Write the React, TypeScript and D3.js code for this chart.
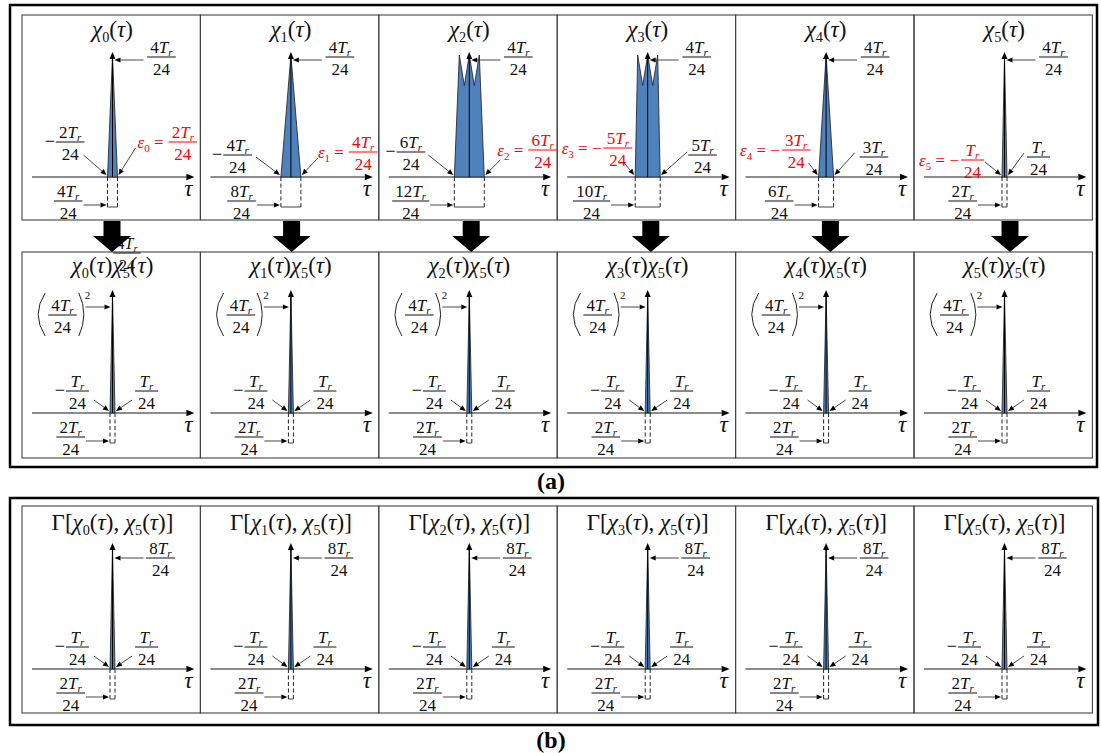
import React from 'react';
import * as d3 from 'd3';

// ---------------- data ----------------
const chiIndex = [0, 1, 2, 3, 4, 5];
const chiHalfWidth = [2, 4, 6, 5, 3, 1]; // half base width, units of Tr/24
const chiEpsilon = [2, 4, 6, -5, -3, -1]; // epsilon_k, units of Tr/24
const chiPeakCoef = 4; // peak = 4Tr/24
const chiProfiles: [number, number][][] = [
  [[-2, 0], [0, 4], [2, 0]],
  [[-4, 0], [0, 4], [4, 0]],
  [[-6, 0], [-4, 4], [-2, 3], [0, 4], [2, 3], [4, 4], [6, 0]],
  [[-5, 0], [-4, 4], [-2, 3], [0, 4], [2, 3], [4, 4], [5, 0]],
  [[-3, 0], [0, 4], [3, 0]],
  [[-1, 0], [0, 4], [1, 0]],
];
const refIndex = 5;
const productHalfWidth = 1;
const productPeak = 16; // (4Tr/24)^2 in units^2
const productPeakCoef = 4;
const productPeakPower = 2;
const productProfile: [number, number][] = [[-1, 0], [0, 16], [1, 0]];
const gammaHalfWidth = 1;
const gammaPeakCoef = 8;
const gammaProfile: [number, number][] = [[-1, 0], [0, 8], [1, 0]];
const denominator = '24';
const figureLabels = ['(a)', '(b)'];

// ---------------- layout ----------------
const W = 1101;
const H = 753;
const FONT = "'Liberation Serif', 'Times New Roman', Times, serif";
const FS = 17;
const TITLE_FS = 23;
const RED = '#ff0000';
const INK = '#111';
const PX_PER_UNIT = 2.5;
const edgeX = d3.scaleLinear().domain([0, 6]).range([22, 1092.4]);
const bigArrowX = d3.scaleLinear().domain([0, 5]).range([112, 1010]);

// per-panel placement of the edge labels in the top row (hand placed in the figure)
const TOP_LEFT_GAP = [23, 29, 29, 3, 8, 18];
const TOP_LEFT_BAR = [-35, -22, -25, -29, -27, -17];
const TOP_LEFT_ARROW: [number, number][] = [[-24, -22], [-25, -20], [-26, -22], [-11, -14], [-10, -14], [-17, -15]];
const TOP_RIGHT_GAP = [20, 17, 13, 28, 26, 20];
const TOP_RIGHT_BAR = [-35, -25, -27, -22, -20, -20];
const TOP_RIGHT_ARROW: [number, number][] = [[18, -29], [17, -19], [16, -17], [27, -25], [21, -24], [17, -24]];

type Row = { top: number; bottom: number; axisY: number; peakPx: number; titleDy: number };
const ROW_CHI: Row = { top: 15, bottom: 220, axisY: 177, peakPx: 122, titleDy: 22 };
const ROW_PROD: Row = { top: 252, bottom: 458, axisY: 413, peakPx: 120, titleDy: 21 };
const ROW_GAMMA: Row = { top: 506, bottom: 713, axisY: 669, peakPx: 123, titleDy: 24 };

const coefStr = (n: number) => (n === 1 ? '' : String(n));
const numW = (coef: string, fs = FS) => coef.length * 0.5 * fs + 0.58 * fs + 0.39 * fs * 0.65;
const fracWidth = (coef: string, fs = FS) => Math.max(numW(coef, fs), denominator.length * 0.5 * fs) + 6;

function ArrowLine({ x1, y1, x2, y2, color = '#333', head = 6, hw = 2.6, sw = 0.9 }: any) {
  const a = Math.atan2(y2 - y1, x2 - x1);
  const bx = x2 - head * Math.cos(a);
  const by = y2 - head * Math.sin(a);
  const px = -Math.sin(a) * hw;
  const py = Math.cos(a) * hw;
  return (
    <g>
      <line x1={x1} y1={y1} x2={bx} y2={by} stroke={color} strokeWidth={sw} />
      <path d={`M${x2},${y2}L${bx + px},${by + py}L${bx - px},${by - py}Z`} fill="#000" />
    </g>
  );
}

function Frac({ cx, bar, coef, color = INK, fs = FS }: any) {
  const bw = fracWidth(coef, fs);
  return (
    <g fill={color} style={{ fontFamily: FONT }}>
      <text x={cx} y={bar - 4} textAnchor="middle" fontSize={fs}>
        {coef}
        <tspan fontStyle="italic">T</tspan>
        <tspan fontStyle="italic" fontSize={fs * 0.65} dy={3}>r</tspan>
      </text>
      <line x1={cx - bw / 2} x2={cx + bw / 2} y1={bar} y2={bar} stroke={color} strokeWidth={1} />
      <text x={cx} y={bar + 18} textAnchor="middle" fontSize={fs}>{denominator}</text>
    </g>
  );
}

function chiT(k: number, key: string, fs: number) {
  return [
    <tspan key={key + 'a'} fontStyle="italic">χ</tspan>,
    <tspan key={key + 'b'} fontSize={fs * 0.62} dy={fs * 0.22}>{k}</tspan>,
    <tspan key={key + 'c'} dy={-fs * 0.22}>(</tspan>,
    <tspan key={key + 'd'} fontStyle="italic">τ</tspan>,
    <tspan key={key + 'e'}>)</tspan>,
  ];
}

// prefix "ε_k = " (optionally with minus)
function EpsPrefix({ x, y, k, neg, anchor }: any) {
  return (
    <text x={x} y={y} textAnchor={anchor} fontSize={FS} fill={RED}>
      <tspan fontStyle="italic">ε</tspan>
      <tspan fontSize={11} dy={4}>{k}</tspan>
      <tspan dy={-4}>{neg ? ' = −' : ' = '}</tspan>
    </text>
  );
}
const EPS_PREFIX_W = 31;

function BlackLeft({ xL, axisY, coef, gap, barDy, adx, ady }: any) {
  const bw = fracWidth(coef);
  const cx = xL - gap - bw / 2;
  const bar = axisY + barDy;
  return (
    <g>
      <text x={cx - bw / 2 - 1} y={bar + 5} textAnchor="end" fontSize={FS + 1} fill={INK}>−</text>
      <Frac cx={cx} bar={bar} coef={coef} />
      <ArrowLine x1={xL + adx} y1={axisY + ady} x2={xL - 1} y2={axisY - 2} />
    </g>
  );
}

function BlackRight({ xR, axisY, coef, gap, barDy, adx, ady }: any) {
  const bw = fracWidth(coef);
  const cx = xR + gap + bw / 2;
  const bar = axisY + barDy;
  return (
    <g>
      <Frac cx={cx} bar={bar} coef={coef} />
      <ArrowLine x1={xR + adx} y1={axisY + ady} x2={xR + 1} y2={axisY - 2} />
    </g>
  );
}

function RedRight({ xR, axisY, coef, k, gap, barDy, adx, ady }: any) {
  const bw = fracWidth(coef);
  const bar = axisY + barDy;
  const x0 = xR + gap;
  const cx = x0 + EPS_PREFIX_W + bw / 2;
  return (
    <g>
      <EpsPrefix x={x0} y={bar + 6} k={k} neg={false} anchor="start" />
      <Frac cx={cx} bar={bar} coef={coef} color={RED} />
      <ArrowLine x1={xR + adx} y1={axisY + ady} x2={xR + 1} y2={axisY - 2} />
    </g>
  );
}

function RedLeft({ xL, axisY, coef, k, gap, barDy, adx, ady }: any) {
  const bw = fracWidth(coef);
  const bar = axisY + barDy;
  const cx = xL - gap - bw / 2;
  return (
    <g>
      <EpsPrefix x={cx - bw / 2 - 2} y={bar + 6} k={k} neg={true} anchor="end" />
      <Frac cx={cx} bar={bar} coef={coef} color={RED} />
      <ArrowLine x1={xL + adx} y1={axisY + ady} x2={xL - 1} y2={axisY - 2} />
    </g>
  );
}

function PanelBase({ k, row, title, profile, yMax, halfWidth }: any) {
  const left = edgeX(k);
  const right = edgeX(k + 1);
  const cx = left + 90.5;
  const tau = d3.scaleLinear().domain([0, 1]).range([cx, cx + PX_PER_UNIT]);
  const y = d3.scaleLinear().domain([0, yMax]).range([row.axisY, row.axisY - row.peakPx]);
  const line = d3.line<[number, number]>().x((d) => tau(d[0])).y((d) => y(d[1]));
  const xL = tau(-halfWidth);
  const xR = tau(halfWidth);
  const yPeak = y(yMax);
  const boxB = row.axisY + 30;
  const wCoef = coefStr(2 * halfWidth);
  const wbw = fracWidth(wCoef);
  return (
    <g>
      <rect x={left} y={row.top} width={right - left} height={row.bottom - row.top} fill="none" stroke="#444" strokeWidth={1.1} />
      <text x={cx} y={row.top + row.titleDy} textAnchor="middle" fontSize={TITLE_FS} fill={INK}>{title}</text>
      <ArrowLine x1={left + 10} y1={row.axisY} x2={right - 6} y2={row.axisY} color="#666" sw={1.5} head={8} hw={3.3} />
      <text x={right - 12} y={row.axisY + 19} textAnchor="middle" fontSize={23} fontStyle="italic" fill={INK}>τ</text>
      <path d={(line(profile) || '') + 'Z'} fill="#4f81bd" stroke="#1c1c1c" strokeWidth={0.8} strokeLinejoin="miter" />
      <ArrowLine x1={cx} y1={row.axisY} x2={cx} y2={yPeak - 3} color="#000" sw={1} head={7} hw={3} />
      <line x1={xL} y1={row.axisY} x2={xL} y2={boxB} stroke="#222" strokeWidth={1} strokeDasharray="4 2.5" />
      <line x1={xR} y1={row.axisY} x2={xR} y2={boxB} stroke="#222" strokeWidth={1} strokeDasharray="4 2.5" />
      <line x1={xL} y1={boxB} x2={xR} y2={boxB} stroke="#444" strokeWidth={1} />
      <Frac cx={xL - 25 - wbw / 2} bar={row.axisY + 24} coef={wCoef} />
      <ArrowLine x1={xL - 24} y1={row.axisY + 28} x2={xL - 1} y2={row.axisY + 28} />
    </g>
  );
}

function ChiPanel({ k }: { k: number }) {
  const row = ROW_CHI;
  const cx = edgeX(k) + 90.5;
  const tau = d3.scaleLinear().domain([0, 1]).range([cx, cx + PX_PER_UNIT]);
  const y = d3.scaleLinear().domain([0, chiPeakCoef]).range([row.axisY, row.axisY - row.peakPx]);
  const h = chiHalfWidth[k];
  const eps = chiEpsilon[k];
  const xL = tau(-h);
  const xR = tau(h);
  const yPeak = y(chiPeakCoef);
  const cb = coefStr(h);
  const ce = coefStr(Math.abs(eps));
  const leftCfg = { gap: TOP_LEFT_GAP[k], barDy: TOP_LEFT_BAR[k], adx: TOP_LEFT_ARROW[k][0], ady: TOP_LEFT_ARROW[k][1] };
  const rightCfg = { gap: TOP_RIGHT_GAP[k], barDy: TOP_RIGHT_BAR[k], adx: TOP_RIGHT_ARROW[k][0], ady: TOP_RIGHT_ARROW[k][1] };
  return (
    <g>
      <PanelBase k={k} row={row} title={chiT(k, 't', TITLE_FS)} profile={chiProfiles[k]} yMax={chiPeakCoef} halfWidth={h} />
      <Frac cx={cx + 49} bar={yPeak + 2} coef={coefStr(chiPeakCoef)} />
      <ArrowLine x1={cx + 31} y1={yPeak + 5} x2={cx + 2} y2={yPeak + 5} />
      {eps > 0 ? (
        <g>
          <BlackLeft xL={xL} axisY={row.axisY} coef={cb} {...leftCfg} />
          <RedRight xR={xR} axisY={row.axisY} coef={ce} k={k} {...rightCfg} />
        </g>
      ) : (
        <g>
          <RedLeft xL={xL} axisY={row.axisY} coef={ce} k={k} {...leftCfg} />
          <BlackRight xR={xR} axisY={row.axisY} coef={cb} {...rightCfg} />
        </g>
      )}
    </g>
  );
}

function ProductPanel({ k }: { k: number }) {
  const row = ROW_PROD;
  const cx = edgeX(k) + 90.5;
  const tau = d3.scaleLinear().domain([0, 1]).range([cx, cx + PX_PER_UNIT]);
  const y = d3.scaleLinear().domain([0, productPeak]).range([row.axisY, row.axisY - row.peakPx]);
  const xL = tau(-productHalfWidth);
  const xR = tau(productHalfWidth);
  const yPeak = y(productPeak);
  const c = coefStr(productHalfWidth);
  const pc = coefStr(productPeakCoef);
  const bw = fracWidth(pc);
  const fcx = cx - 50;
  const bar = yPeak + 22;
  const top = bar - 22;
  const bot = bar + 21;
  const lE = fcx - bw / 2 - 3;
  const rE = fcx + bw / 2 + 2;
  return (
    <g>
      <PanelBase
        k={k}
        row={row}
        title={[...chiT(k, 'p', TITLE_FS), ...chiT(refIndex, 'q', TITLE_FS)]}
        profile={productProfile}
        yMax={productPeak}
        halfWidth={productHalfWidth}
      />
      <path d={`M${lE},${top} Q${lE - 14},${(top + bot) / 2} ${lE},${bot}`} fill="none" stroke="#222" strokeWidth={1} />
      <path d={`M${rE},${top} Q${rE + 10},${(top + bot) / 2} ${rE},${bot}`} fill="none" stroke="#222" strokeWidth={1} />
      <Frac cx={fcx} bar={bar} coef={pc} />
      <text x={rE + 6} y={bar - 16} fontSize={11} fill={INK}>{productPeakPower}</text>
      <ArrowLine x1={cx - 27} y1={yPeak + 14} x2={cx - 2} y2={yPeak + 14} />
      <BlackLeft xL={xL} axisY={row.axisY} coef={c} gap={21} barDy={-22} adx={-16} ady={-13} />
      <BlackRight xR={xR} axisY={row.axisY} coef={c} gap={20} barDy={-22} adx={17} ady={-13} />
    </g>
  );
}

function GammaPanel({ k }: { k: number }) {
  const row = ROW_GAMMA;
  const cx = edgeX(k) + 90.5;
  const tau = d3.scaleLinear().domain([0, 1]).range([cx, cx + PX_PER_UNIT]);
  const y = d3.scaleLinear().domain([0, gammaPeakCoef]).range([row.axisY, row.axisY - row.peakPx]);
  const xL = tau(-gammaHalfWidth);
  const xR = tau(gammaHalfWidth);
  const yPeak = y(gammaPeakCoef);
  const c = coefStr(gammaHalfWidth);
  return (
    <g>
      <PanelBase
        k={k}
        row={row}
        title={['Γ[', ...chiT(k, 'g', TITLE_FS), ', ', ...chiT(refIndex, 'h', TITLE_FS), ']']}
        profile={gammaProfile}
        yMax={gammaPeakCoef}
        halfWidth={gammaHalfWidth}
      />
      <Frac cx={cx + 48} bar={yPeak + 12} coef={coefStr(gammaPeakCoef)} />
      <ArrowLine x1={cx + 31} y1={yPeak + 12} x2={cx + 2} y2={yPeak + 12} />
      <BlackLeft xL={xL} axisY={row.axisY} coef={c} gap={21} barDy={-22} adx={-16} ady={-13} />
      <BlackRight xR={xR} axisY={row.axisY} coef={c} gap={20} barDy={-22} adx={17} ady={-13} />
    </g>
  );
}

function BigArrow({ x }: { x: number }) {
  const sTop = 221;
  const hTop = 236;
  const tip = 252;
  const sw = 17;
  const hw = 38;
  return (
    <path
      d={`M${x - sw / 2},${sTop}H${x + sw / 2}V${hTop}H${x + hw / 2}L${x},${tip}L${x - hw / 2},${hTop}H${x - sw / 2}Z`}
      fill="#000"
    />
  );
}

export default function App() {
  return (
    <svg
      width={W}
      height={H}
      viewBox={`0 0 ${W} ${H}`}
      style={{ position: 'absolute', left: 0, top: 0, background: '#fff', fontFamily: FONT }}
    >
      <rect width={W} height={H} fill="#fff" />
      <rect x={10} y={5} width={1087} height={462} fill="none" stroke="#000" strokeWidth={2.5} />
      <rect x={10} y={498} width={1088} height={227} fill="none" stroke="#000" strokeWidth={2.5} />
      {chiIndex.map((k) => (
        <ChiPanel key={'c' + k} k={k} />
      ))}
      {chiIndex.map((k) => (
        <ProductPanel key={'p' + k} k={k} />
      ))}
      {/* leftover overlapping label in the first product title */}
      <Frac cx={127} bar={253} coef={coefStr(chiPeakCoef)} fs={16} />
      {chiIndex.map((k) => (
        <GammaPanel key={'g' + k} k={k} />
      ))}
      {chiIndex.map((k) => (
        <BigArrow key={'a' + k} x={bigArrowX(k)} />
      ))}
      <text x={551} y={489} textAnchor="middle" fontSize={24} fontWeight="bold" fill="#000">{figureLabels[0]}</text>
      <text x={551} y={748} textAnchor="middle" fontSize={24} fontWeight="bold" fill="#000">{figureLabels[1]}</text>
    </svg>
  );
}
